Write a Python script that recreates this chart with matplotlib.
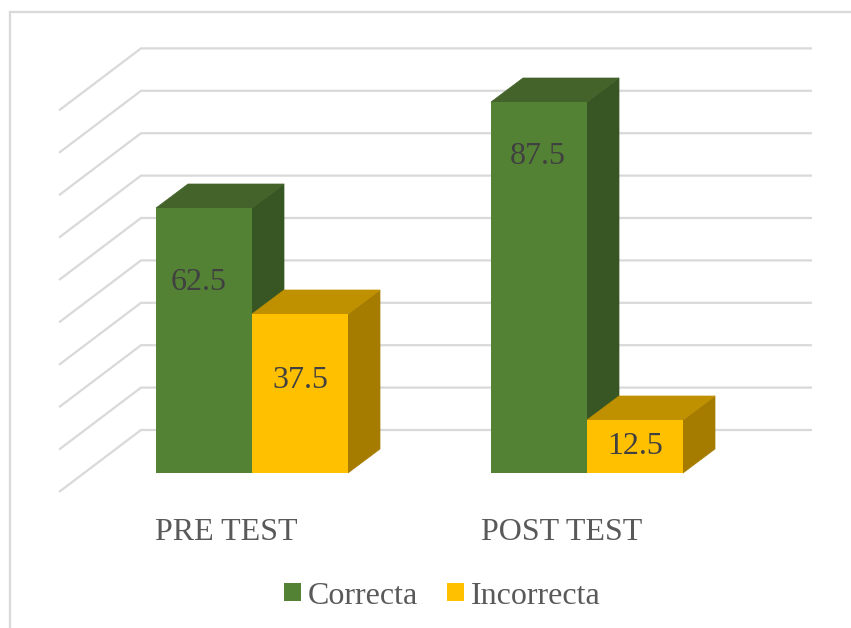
import matplotlib
matplotlib.use('Agg')
from matplotlib import pyplot as plt
from matplotlib.lines import Line2D
from matplotlib.patches import Patch, Polygon

# Datos
categorias = ['PRE TEST', 'POST TEST']
correcta = [62.5, 87.5]
incorrecta = [37.5, 12.5]
series = ['Correcta', 'Incorrecta']
grid_valores = [0, 10, 20, 30, 40, 50, 60, 70, 80, 90]

ANCHO, ALTO = 851, 628
PX_X = 335.0    # pixeles entre categorias
PX_Y = 4.24     # pixeles por unidad de valor
X0, Y0 = 252, 473

colores = {
    'Correcta': ('#548235', '#43632A', '#375623'),
    'Incorrecta': ('#FFC000', '#BF9000', '#A67C00'),
}
GRIS = '#D9D9D9'
TEXTO = '#595959'
ETIQUETA = '#404040'
TAM = 23

ancho_barra = 96 / PX_X
prof_x = 32 / PX_X
prof_y = 24 / PX_Y

plt.rcParams['font.family'] = ['Liberation Serif', 'DejaVu Serif']

fig = plt.figure(figsize=(ANCHO / 100, ALTO / 100), dpi=100)
ax = fig.add_axes([0, 0, 1, 1])
ax.set_xlim(-X0 / PX_X, (ANCHO - X0) / PX_X)
ax.set_ylim((Y0 - ALTO) / PX_Y, Y0 / PX_Y)
ax.axis('off')

# Marco del grafico (solo izquierda y arriba)
fig.add_artist(Line2D([9.5 / ANCHO, 9.5 / ANCHO], [0, 1 - 12 / ALTO], color=GRIS, lw=1.6))
fig.add_artist(Line2D([9.5 / ANCHO, 1], [1 - 12 / ALTO, 1 - 12 / ALTO], color=GRIS, lw=1.6))

# Lineas de la pared del fondo y del lateral
x_frente = (59 - X0) / PX_X
x_fondo = (141 - X0) / PX_X
x_fin = (812 - X0) / PX_X
sube_fondo = 43 / PX_Y
baja_frente = 19 / PX_Y
for v in grid_valores:
    ax.plot(
        [x_frente, x_fondo, x_fin],
        [v - baja_frente, v + sube_fondo, v + sube_fondo],
        color=GRIS, lw=1.6, solid_joinstyle='miter', solid_capstyle='butt', zorder=1,
    )


def barra(x, valor, nombre, z):
    """Dibuja una barra con su cara frontal, superior y lateral."""
    frente, arriba, lado = colores[nombre]
    x1 = x + ancho_barra
    ax.add_patch(Polygon(
        [(x1, 0), (x1 + prof_x, prof_y), (x1 + prof_x, valor + prof_y), (x1, valor)],
        facecolor=lado, edgecolor=lado, lw=0.5, zorder=z,
    ))
    ax.add_patch(Polygon(
        [(x, valor), (x + prof_x, valor + prof_y), (x1 + prof_x, valor + prof_y), (x1, valor)],
        facecolor=arriba, edgecolor=arriba, lw=0.5, zorder=z,
    ))
    ax.bar(x, valor, width=ancho_barra, align='edge', color=frente, zorder=z + 0.1)


# Desplazamiento de las etiquetas respecto al tope de cada barra, en pixeles
baja_correcta = [75, 55]
baja_incorrecta = [67, 26]
corre_correcta = [-5, -1]

for i in range(len(categorias)):
    barra(i - ancho_barra, correcta[i], 'Correcta', 2)
    barra(i, incorrecta[i], 'Incorrecta', 3)

    ax.text(
        i - ancho_barra / 2 + corre_correcta[i] / PX_X,
        correcta[i] - baja_correcta[i] / PX_Y,
        str(correcta[i]), ha='center', va='center',
        fontsize=TAM, color=ETIQUETA, zorder=5,
    )
    ax.text(
        i + ancho_barra / 2,
        incorrecta[i] - baja_incorrecta[i] / PX_Y,
        str(incorrecta[i]), ha='center', va='center',
        fontsize=TAM, color=ETIQUETA, zorder=5,
    )
    ax.text(
        i - 25.5 / PX_X, -59 / PX_Y, categorias[i],
        ha='center', va='center', fontsize=TAM, color=TEXTO,
    )

manijas = [Patch(facecolor=colores[s][0], edgecolor='none') for s in series]
ley = fig.legend(
    manijas, series, loc='center', ncol=2,
    bbox_to_anchor=(442.5 / ANCHO, 1 - 596 / ALTO),
    frameon=False, fontsize=TAM, labelcolor=TEXTO,
    handlelength=0.52, handleheight=0.52, handletextpad=0.22,
    columnspacing=0.9, borderpad=0, borderaxespad=0,
)

fig.savefig('out.png', dpi=100, facecolor='white')
plt.close(fig)
